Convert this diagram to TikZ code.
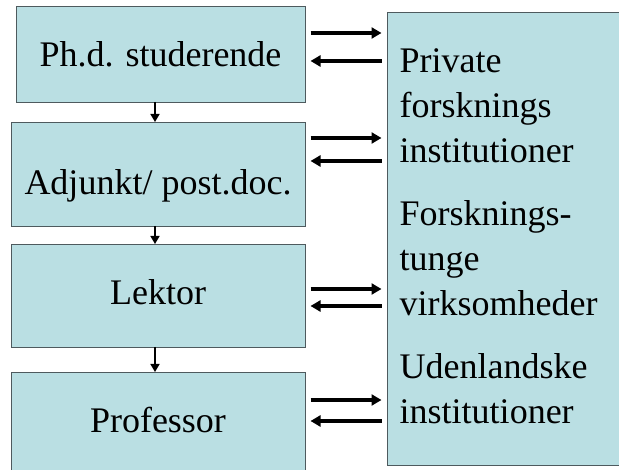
\documentclass[tikz,border=0pt]{standalone}
\usepackage{fontspec}
\setmainfont{LiberationSerif-Regular.ttf}
\usetikzlibrary{arrows.meta}
\definecolor{boxfill}{RGB}{186,223,227}
\definecolor{boxline}{RGB}{78,90,94}
\begin{document}
\begin{tikzpicture}[
	x=1pt, y=-1pt,
	rung/.style={
		rectangle,
		draw=boxline,
		fill=boxfill,
		outer sep=0pt,
		font=\fontsize{36}{45}\selectfont,
		text height=#1,
		text depth=8pt,
	},
	flow/.style={
		-{Triangle[length=10pt,width=11pt]},
		line width=4pt,
		shorten <=5.5pt,
		shorten >=5.5pt,
	},
	promo/.style={
		-{Triangle[length=8pt,width=9pt]},
		line width=1.6pt,
	},
]
\useasboundingbox (0,0) rectangle (619,470);

\node[rung=34pt, minimum width=289pt, minimum height=96pt] (phd) at (160.5,54) {Ph.d. studerende};
\node[rung=50pt, minimum width=294pt, minimum height=104pt] (adj) at (158,174) {Adjunkt/ post.doc.};
\node[rung=27pt, minimum width=294pt, minimum height=103pt] (lek) at (158,295.5) {Lektor};
\node[rung=22pt, minimum width=294pt, minimum height=108pt] (prof) at (158,426) {Professor};

\node[rectangle, draw=boxline, fill=boxfill, outer sep=0pt, minimum width=238pt, minimum height=453pt] (rbox) at (506,238.5) {};
\node[anchor=north west, inner sep=0pt, align=left, font=\fontsize{36}{45}\selectfont] (rtext) at (399.5,48.4) {Private\\forsknings\\institutioner\\[18pt]Forsknings-\\tunge\\virksomheder\\[18pt]Udenlandske\\institutioner};

\draw[promo] (phd.south -| 155,0) -- (adj.north -| 155,0);
\draw[promo] (adj.south -| 155,0) -- (lek.north -| 155,0);
\draw[promo] (lek.south -| 155,0) -- (prof.north -| 155,0);

\foreach \a/\ya/\yb in {phd/33/61, adj/138/161, lek/289/306, prof/400/421} {
	\draw[flow] (\a.east |- 0,\ya) -- (rbox.west |- 0,\ya);
	\draw[flow] (rbox.west |- 0,\yb) -- (\a.east |- 0,\yb);
}

\end{tikzpicture}
\end{document}
